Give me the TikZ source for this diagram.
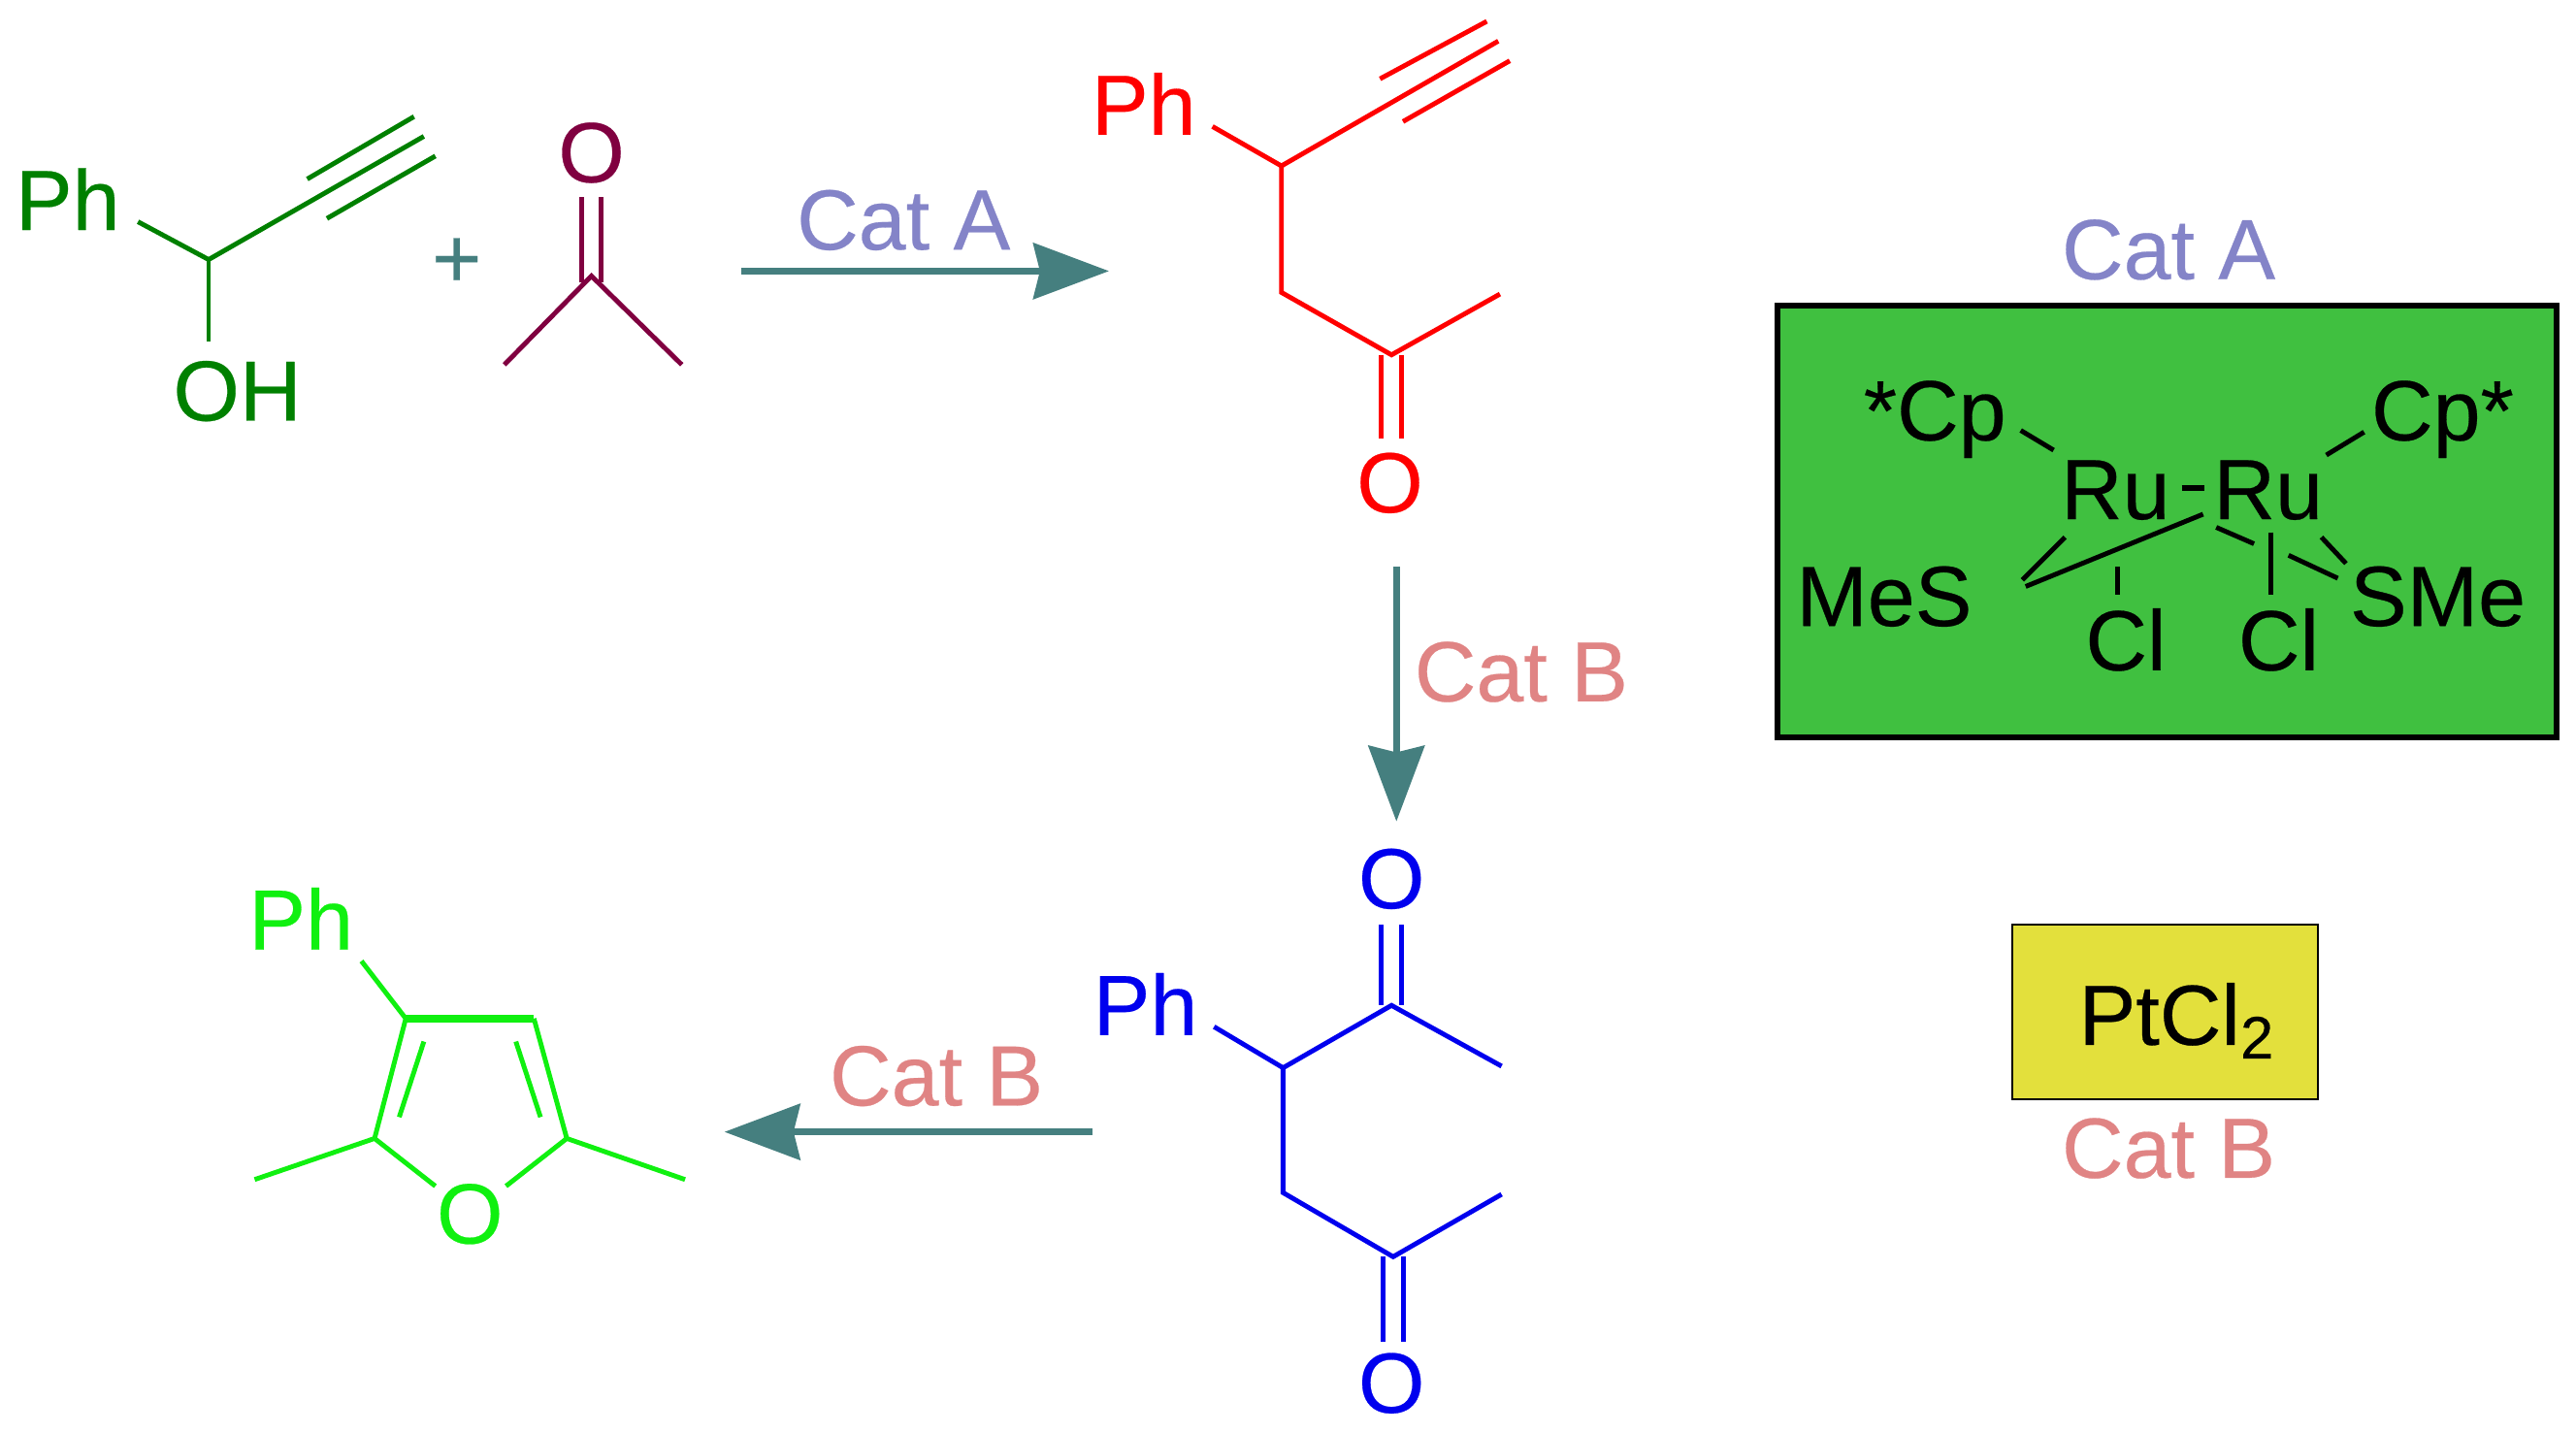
\documentclass[tikz,border=0pt]{standalone}
\usepackage{fontspec}
\setmainfont{Liberation Sans}[FakeBold=0.3]
\usetikzlibrary{arrows.meta}
\definecolor{alkynol}{HTML}{008000}
\definecolor{acetone}{HTML}{800040}
\definecolor{furan}{HTML}{10F010}
\definecolor{diketone}{HTML}{0000EE}
\definecolor{arrowteal}{HTML}{457F7F}
\definecolor{catalabel}{HTML}{8484C8}
\definecolor{catblabel}{HTML}{E08484}
\definecolor{catabox}{HTML}{40C040}
\definecolor{catbbox}{HTML}{E3E03C}
\begin{document}
\begin{tikzpicture}[x=0.5pt,y=-0.5pt,
    every node/.style={inner sep=0pt,font=\fontsize{26}{30}\selectfont},
    atom/.style={anchor=base west},
    bond/.style={line width=1.45pt},
    dbond/.style={line width=1.45pt,double,double distance=4.6pt},
    rxn/.style={draw=arrowteal,line width=2pt,-{Stealth[length=23pt,width=17pt,inset=2pt]}}]
    \useasboundingbox (0,0) rectangle (1568,872);

    \node[atom,color=alkynol] (phG) at (9,140) {Ph};
    \node[atom,color=alkynol] (ohG) at (105,256) {OH};
    \coordinate (cG) at (127,158);
    \coordinate (phGend) at (84,135);
    \coordinate (ohGend) at (127,208);
    \coordinate (tG) at (258,83);
    \coordinate (tGa) at (187,109);
    \coordinate (tGb) at (252,71);
    \coordinate (tGc) at (199,133);
    \coordinate (tGd) at (265,95);
    \draw[bond,color=alkynol] (phGend) -- (cG) -- (tG);
    \draw[bond,color=alkynol] (cG) -- (ohGend);
    \draw[bond,color=alkynol] (tGa) -- (tGb);
    \draw[bond,color=alkynol] (tGc) -- (tGd);

    \node[color=arrowteal] (plus) at (278,160) {+};

    \node[color=acetone] (oP) at (360,93) {O};
    \coordinate (cPup) at (360,120);
    \coordinate (cPdown) at (360,172);
    \coordinate (cP) at (360,168);
    \coordinate (mePa) at (307,222);
    \coordinate (mePb) at (415,222);
    \draw[dbond,color=acetone] (cPup) -- (cPdown);
    \draw[bond,color=acetone] (mePa) -- (cP) -- (mePb);

    \coordinate (arrAa) at (451,165);
    \coordinate (arrAb) at (675,165);
    \draw[rxn] (arrAa) -- (arrAb);
    \node[color=catalabel] (catAtop) at (550,134) {Cat A};

    \node[atom,color=red] (phR) at (664,82) {Ph};
    \coordinate (cR) at (780,101);
    \coordinate (phRend) at (738,77);
    \coordinate (tR) at (912,25);
    \coordinate (tRa) at (840,48);
    \coordinate (tRb) at (905,13);
    \coordinate (tRc) at (854,74);
    \coordinate (tRd) at (919,37);
    \coordinate (ch2R) at (780,178);
    \coordinate (coR) at (847,216);
    \coordinate (meR) at (913,179);
    \coordinate (coRdown) at (847,267);
    \draw[bond,color=red] (phRend) -- (cR) -- (tR);
    \draw[bond,color=red] (tRa) -- (tRb);
    \draw[bond,color=red] (tRc) -- (tRd);
    \draw[dbond,color=red] (coR) -- (coRdown);
    \draw[bond,color=red] (cR) -- (ch2R) -- (coR) -- (meR);
    \node[color=red] (oR) at (846,294) {O};

    \coordinate (arrBa) at (850,345);
    \coordinate (arrBb) at (850,500);
    \draw[rxn] (arrBa) -- (arrBb);
    \node[color=catblabel] (catBright) at (926,409) {Cat B};

    \node[color=diketone] (oBa) at (847,535) {O};
    \node[atom,color=diketone] (phB) at (665,630) {Ph};
    \coordinate (coBup) at (847,563);
    \coordinate (coB) at (847,612);
    \coordinate (cB) at (781,650);
    \coordinate (meBa) at (914,649);
    \coordinate (phBend) at (739,625);
    \coordinate (ch2B) at (781,726);
    \coordinate (coBb) at (848,765);
    \coordinate (meBb) at (914,727);
    \coordinate (coBdown) at (848,817);
    \draw[dbond,color=diketone] (coBup) -- (coB);
    \draw[dbond,color=diketone] (coBb) -- (coBdown);
    \draw[bond,color=diketone] (phBend) -- (cB) -- (coB) -- (meBa);
    \draw[bond,color=diketone] (cB) -- (ch2B) -- (coBb) -- (meBb);
    \node[color=diketone] (oBb) at (847,842) {O};

    \coordinate (arrCa) at (665,689);
    \coordinate (arrCb) at (441,689);
    \draw[rxn] (arrCa) -- (arrCb);
    \node[color=catblabel] (catBleft) at (570,655) {Cat B};

    \node[atom,color=furan] (phF) at (151,578) {Ph};
    \node[color=furan] (oF) at (286,739) {O};
    \coordinate (phFend) at (220,585);
    \coordinate (c3F) at (247,620);
    \coordinate (c4F) at (325,620);
    \coordinate (c2F) at (228,693);
    \coordinate (c5F) at (345,693);
    \coordinate (meFa) at (155,718);
    \coordinate (meFb) at (417,718);
    \coordinate (oFa) at (265,722);
    \coordinate (oFb) at (308,722);
    \coordinate (inFa) at (258,634);
    \coordinate (inFb) at (243,680);
    \coordinate (inFc) at (314,634);
    \coordinate (inFd) at (329,680);
    \draw[bond,color=furan] (phFend) -- (c3F) -- (c2F);
    \draw[bond,color=furan,line width=2.2pt] (c3F) -- (c4F);
    \draw[bond,color=furan] (c4F) -- (c5F) -- (meFb);
    \draw[bond,color=furan] (meFa) -- (c2F) -- (oFa);
    \draw[bond,color=furan] (c5F) -- (oFb);
    \draw[bond,color=furan] (inFa) -- (inFb);
    \draw[bond,color=furan] (inFc) -- (inFd);

    \node[color=catalabel] (catAbox) at (1320,152) {Cat A};
    \node[draw=black,fill=catabox,line width=1.7pt,minimum width=237pt,minimum height=131.5pt] (boxA) at (1319,317.5) {};
    \node[atom] (cpL) at (1134,268) {*Cp};
    \node[atom] (cpR) at (1443,268) {Cp*};
    \node[atom] (ruL) at (1254,316) {Ru};
    \node[atom] (ruR) at (1347,316) {Ru};
    \node[atom] (mes) at (1093,381) {MeS};
    \node[atom] (sme) at (1430,381) {SMe};
    \node[atom] (clL) at (1269,408) {Cl};
    \node[atom] (clR) at (1362,408) {Cl};
    \draw[bond] (1230,262) coordinate (ba) -- (1250,274) coordinate (bb);
    \draw[bond] (1439,263) coordinate (bc) -- (1416,277) coordinate (bd);
    \draw[bond,line width=1.9pt] (1328,297) coordinate (be) -- (1342,297) coordinate (bf);
    \draw[bond] (1257,327) coordinate (bg) -- (1231,353) coordinate (bh);
    \draw[bond] (1341,313) coordinate (bi) -- (1233,357) coordinate (bj);
    \draw[bond] (1289,345) coordinate (bk) -- (1289,362) coordinate (bl);
    \draw[bond] (1349,321) coordinate (bm) -- (1372,331) coordinate (bn);
    \draw[bond] (1382,324) coordinate (bo) -- (1382,362) coordinate (bp);
    \draw[bond] (1413,327) coordinate (bq) -- (1428,343) coordinate (br);
    \draw[bond] (1393,338) coordinate (bs) -- (1423,352) coordinate (bt);

    \node[draw=black,fill=catbbox,line width=0.6pt,minimum width=93pt,minimum height=53pt] (boxB) at (1318,616) {};
    \node[atom] (ptcl) at (1265,636) {PtCl\textsubscript{2}};
    \node[color=catblabel] (catBbox) at (1320,699) {Cat B};
\end{tikzpicture}
\end{document}
